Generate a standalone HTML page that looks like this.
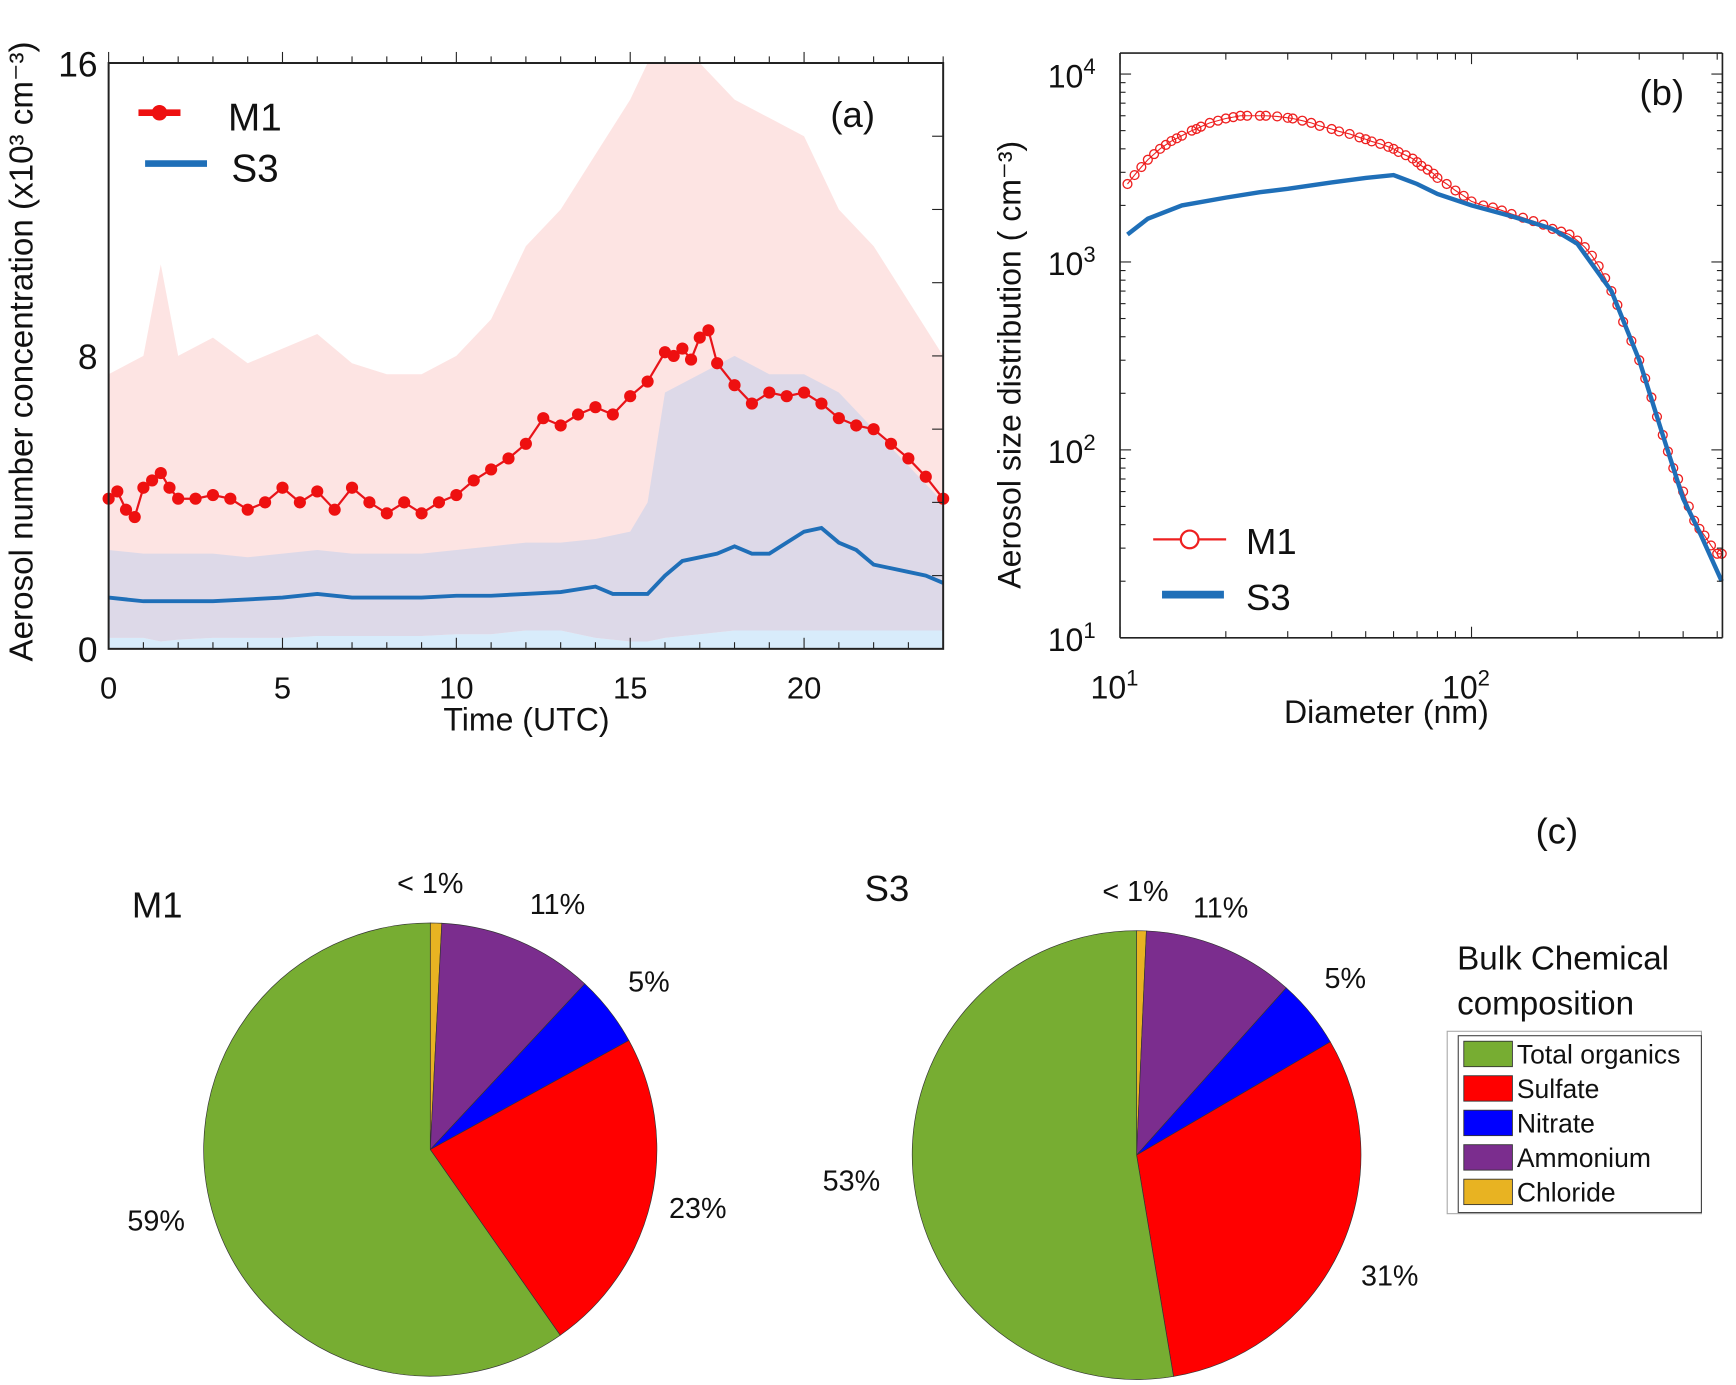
<!DOCTYPE html>
<html><head><meta charset="utf-8"><style>
html,body{margin:0;padding:0;background:#fff}
svg{display:block}
text{font-family:"Liberation Sans",sans-serif;fill:#111}
</style></head><body>
<svg id="fig" width="1736" height="1385" viewBox="0 0 1568 1253" xmlns="http://www.w3.org/2000/svg">
<g id="pa"></g>
<g id="pb"></g>
<g id="pc"></g>
</svg>
<script>
// ---- Panel (a) data ----
const aM1Times=[0,0.25,0.5,0.75,1,1.25,1.5,1.75,2,2.5,3,3.5,4,4.5,5,5.5,6,6.5,7,7.5,8,8.5,9,9.5,10,10.5,11,11.5,12,12.5,13,13.5,14,14.5,15,15.5,16,16.25,16.5,16.75,17,17.25,17.5,18,18.5,19,19.5,20,20.5,21,21.5,22,22.5,23,23.5,24];
const aM1Values=[4.1,4.3,3.8,3.6,4.4,4.6,4.8,4.4,4.1,4.1,4.2,4.1,3.8,4.0,4.4,4.0,4.3,3.8,4.4,4.0,3.7,4.0,3.7,4.0,4.2,4.6,4.9,5.2,5.6,6.3,6.1,6.4,6.6,6.4,6.9,7.3,8.1,8.0,8.2,7.9,8.5,8.7,7.8,7.2,6.7,7.0,6.9,7.0,6.7,6.3,6.1,6.0,5.6,5.2,4.7,4.1];
const aS3Times=[0,1,2,3,4,5,6,7,8,9,10,11,12,13,14,14.5,15,15.5,16,16.5,17,17.5,18,18.5,19,19.5,20,20.5,21,21.5,22,22.5,23,23.5,24];
const aS3Values=[1.4,1.3,1.3,1.3,1.35,1.4,1.5,1.4,1.4,1.4,1.45,1.45,1.5,1.55,1.7,1.5,1.5,1.5,2.0,2.4,2.5,2.6,2.8,2.6,2.6,2.9,3.2,3.3,2.9,2.7,2.3,2.2,2.1,2.0,1.8];
const aBandTimes=[0,1,1.5,2,3,4,5,6,7,8,9,10,11,12,13,14,15,15.5,16,17,18,19,20,21,22,23,24];
const aM1Upper=[7.5,8,10.5,8,8.5,7.8,8.2,8.6,7.8,7.5,7.5,8,9,11,12,13.5,15,16,16,16,15,14.5,14,12,11,9.5,8];
const aS3Upper=[2.7,2.6,2.6,2.6,2.6,2.5,2.6,2.7,2.6,2.6,2.6,2.7,2.8,2.9,2.9,3.0,3.2,4,7,7.5,8,7.5,7.5,7,6,5,4];
const aS3Lower=[0.3,0.3,0.2,0.25,0.3,0.3,0.3,0.35,0.35,0.35,0.35,0.4,0.4,0.5,0.5,0.3,0.2,0.2,0.3,0.4,0.5,0.5,0.5,0.5,0.5,0.5,0.5];
const aXTicks=[0,5,10,15,20];
const aYTicks=[0,8,16];
// ---- Panel (b) data ----
const bM1D=[10.5,11,11.5,12,12.5,13,13.5,14,14.5,15,16,16.5,17,18,19,20,21,22,23,25,26,28,30,31,33,35,37,40,42,45,48,50,52,55,58,60,62,65,68,70,72,75,78,80,85,90,95,100,108,115,122,130,140,150,160,170,180,190,200,210,220,230,240,250,260,270,285,300,312,325,337,350,362,375,387,400,415,430,445,460,480,500,515];
const bM1V=[2600,2900,3200,3500,3750,4000,4200,4400,4550,4700,5000,5100,5250,5500,5650,5800,5900,6000,6000,6000,6000,5950,5850,5800,5650,5500,5300,5100,4950,4800,4600,4500,4380,4250,4100,4000,3850,3700,3550,3400,3250,3100,2950,2800,2600,2400,2250,2100,2000,1950,1880,1800,1720,1650,1580,1500,1450,1400,1300,1200,1080,950,820,700,590,480,380,300,240,190,150,120,98,80,70,60,50,42,38,35,31,28,28];
const bS3D=[10.5,12,15,20,25,30,40,50,60,70,80,100,130,170,200,250,300,350,400,450,515];
const bS3V=[1400,1700,2000,2200,2350,2450,2650,2800,2900,2600,2300,2000,1750,1500,1250,700,300,120,55,35,20];
// ---- Panel (c) data ----
const cCategories=["Chloride","Ammonium","Nitrate","Sulfate","Total organics"];
const cColors=["#e8b322","#7b2d8e","#0000ff","#ff0000","#77ad32"];
const cM1Values=[0.8,11,5,23,59];
const cS3Values=[0.7,11,5,31,53];
const cM1Labels=["< 1%","11%","5%","23%","59%"];
const cS3Labels=["< 1%","11%","5%","31%","53%"];

const NS="http://www.w3.org/2000/svg";
function mk(parent,tag,attrs,txt){const e=document.createElementNS(NS,tag);for(const k in attrs)e.setAttribute(k,attrs[k]);if(txt!==undefined)e.textContent=txt;parent.appendChild(e);return e;}

// ===== Panel A =====
const pa=document.getElementById('pa');
const ax=t=>97+t*(755/24), ay=v=>587-v*(530/16);
function band(up,lo,fill,name){let d='';aBandTimes.forEach((t,i)=>{d+=(i?'L':'M')+ax(t)+','+ay(Math.min(up[i],16));});for(let i=aBandTimes.length-1;i>=0;i--)d+='L'+ax(aBandTimes[i])+','+ay(lo?lo[i]:0);d+='Z';
const p=mk(pa,'path',{d:d,fill:fill});

}
band(aM1Upper,null,'#fde4e3','m1-range-band');
band(aS3Upper,aS3Lower,'#ddd9e8','s3-range-band');
band(aS3Lower,null,'#d8ecfb','s3-lower-band');
let dm='';aM1Times.forEach((t,i)=>dm+=(i?'L':'M')+ax(t)+','+ay(aM1Values[i]));
const lm=mk(pa,'path',{d:dm,fill:'none',stroke:'#e8141a','stroke-width':2});


aM1Times.forEach((t,i)=>{const c=mk(pa,'circle',{cx:ax(t),cy:ay(aM1Values[i]),r:5.5,fill:'#ee1010'});

});
let ds='';aS3Times.forEach((t,i)=>ds+=(i?'L':'M')+ax(t)+','+ay(aS3Values[i]));
const ls=mk(pa,'path',{d:ds,fill:'none',stroke:'#1f6fb8','stroke-width':3.5});


mk(pa,'rect',{x:97,y:57,width:755,height:530,fill:'none',stroke:'#222','stroke-width':1.8});
for(let t=0;t<=24;t++){const big=t%5==0;mk(pa,'line',{x1:ax(t),x2:ax(t),y1:587,y2:587-(big?10:6),stroke:'#222'});mk(pa,'line',{x1:ax(t),x2:ax(t),y1:57,y2:57-(big?10:6),stroke:'#222'});}
for(let v=0;v<=16;v+=2){mk(pa,'line',{x1:852,x2:842,y1:ay(v),y2:ay(v),stroke:'#222'});}
aXTicks.forEach(t=>{const e=mk(pa,'text',{x:ax(t),y:632,'font-size':28,'text-anchor':'middle'},t);

});
aYTicks.forEach(v=>{const e=mk(pa,'text',{x:87,y:ay(v)+12,'font-size':32,'text-anchor':'end'},v);

});
mk(pa,'text',{x:475,y:661,'font-size':29,'text-anchor':'middle',},'Time (UTC)');
mk(pa,'text',{transform:'translate(28,318) rotate(-90)','font-size':30,'text-anchor':'middle',},'Aerosol number concentration (x10³  cm⁻³)');
mk(pa,'text',{x:750,y:115,'font-size':33,},'(a)');
mk(pa,'line',{x1:124,x2:162,y1:102,y2:102,stroke:'#ee1010','stroke-width':6});
mk(pa,'circle',{cx:143,cy:102,r:7,fill:'#ee1010'});
mk(pa,'text',{x:205,y:118,'font-size':35,},'M1');
mk(pa,'line',{x1:130,x2:186,y1:148,y2:148,stroke:'#1f6fb8','stroke-width':6});
mk(pa,'text',{x:208,y:164,'font-size':35,},'S3');

// ===== Panel B =====
const pb=document.getElementById('pb');
const bx=d=>1012+(Math.log10(d)-1)*318, by=v=>577-(Math.log10(v)-1)*170;
let dbm='';bM1D.forEach((d,i)=>dbm+=(i?'L':'M')+bx(d)+','+by(bM1V[i]));
mk(pb,'path',{d:dbm,fill:'none',stroke:'#ee2020','stroke-width':1,});
bM1D.forEach((d,i)=>{const c=mk(pb,'circle',{cx:bx(d),cy:by(bM1V[i]),r:4,fill:'none',stroke:'#ee2020','stroke-width':1.2});

});
let db='';bS3D.forEach((d,i)=>db+=(i?'L':'M')+bx(d)+','+by(bS3V[i]));
const sl=mk(pb,'path',{d:db,fill:'none',stroke:'#1f6fb8','stroke-width':4});


mk(pb,'line',{x1:1012,x2:1557,y1:577,y2:577,stroke:'#222','stroke-width':1.5});
mk(pb,'line',{x1:1012,x2:1557,y1:48,y2:48,stroke:'#222','stroke-width':1.5});
mk(pb,'line',{x1:1012,x2:1012,y1:48,y2:577,stroke:'#222','stroke-width':1.5});
mk(pb,'line',{x1:1557,x2:1557,y1:48,y2:577,stroke:'#222','stroke-width':1.5});
for(let dec=1;dec<=2;dec++)for(let m=1;m<=9;m++){const d=m*Math.pow(10,dec);if(d>515)break;const x=bx(d);const L=m==1?10:6;mk(pb,'line',{x1:x,x2:x,y1:577,y2:577-L,stroke:'#222'});mk(pb,'line',{x1:x,x2:x,y1:48,y2:48+L,stroke:'#222'});}
for(let dec=1;dec<=4;dec++)for(let m=1;m<=9;m++){const v=m*Math.pow(10,dec);if(v>13000)break;const y=by(v);const L=m==1?10:5;mk(pb,'line',{x1:1012,x2:1012+L,y1:y,y2:y,stroke:'#222'});mk(pb,'line',{x1:1557,x2:1557-L,y1:y,y2:y,stroke:'#222'});}
[1,2,3,4].forEach(p=>{const t=mk(pb,'text',{x:990,y:by(Math.pow(10,p))+12,'font-size':29,'text-anchor':'end'});t.innerHTML='10<tspan dy="-12" font-size="20">'+p+'</tspan>';

});
[1,2].forEach(p=>{const t=mk(pb,'text',{x:bx(Math.pow(10,p))-5,y:632,'font-size':29,'text-anchor':'middle'});t.innerHTML='10<tspan dy="-12" font-size="20">'+p+'</tspan>';

});
mk(pb,'text',{x:1253,y:654,'font-size':29,'text-anchor':'middle',},'Diameter (nm)');
mk(pb,'text',{transform:'translate(922,330) rotate(-90)','font-size':29,'text-anchor':'middle',},'Aerosol size distribution ( cm⁻³)');
mk(pb,'text',{x:1482,y:95,'font-size':33,},'(b)');
mk(pb,'line',{x1:1042,x2:1108,y1:488,y2:488,stroke:'#ee2020','stroke-width':2});
mk(pb,'circle',{cx:1075,cy:488,r:8,fill:'#fff',stroke:'#ee2020','stroke-width':2});
mk(pb,'text',{x:1126,y:501,'font-size':33,},'M1');
mk(pb,'line',{x1:1050,x2:1106,y1:538,y2:538,stroke:'#1f6fb8','stroke-width':7});
mk(pb,'text',{x:1126,y:552,'font-size':33,},'S3');

// ===== Panel C =====
const pc=document.getElementById('pc');
mk(pc,'text',{x:1388,y:763,'font-size':33,},'(c)');
function pie(cx,cy,r,vals,labels,labelPos,name){const tot=vals.reduce((a,b)=>a+b,0);let a=0;
vals.forEach((v,i)=>{const a0=a,a1=a+v/tot*2*Math.PI;a=a1;
const x0=cx+r*Math.sin(a0),y0=cy-r*Math.cos(a0),x1=cx+r*Math.sin(a1),y1=cy-r*Math.cos(a1);
const p=mk(pc,'path',{d:`M${cx},${cy}L${x0},${y0}A${r},${r} 0 ${a1-a0>Math.PI?1:0} 1 ${x1},${y1}Z`,fill:cColors[i],stroke:'#333','stroke-width':0.6});


const t=mk(pc,'text',{x:labelPos[i][0],y:labelPos[i][1],'font-size':26},labels[i]);

});}
pie(388,1040,205,cM1Values,cM1Labels,[[358,808],[478,827],[567,897],[604,1102],[114,1113]],'m1-pie');
pie(1027,1045,203,cS3Values,cS3Labels,[[996,815],[1078,830],[1197,894],[1230,1163],[743,1077]],'s3-pie');
mk(pc,'text',{x:118,y:830,'font-size':33,},'M1');
mk(pc,'text',{x:781,y:815,'font-size':33,},'S3');
mk(pc,'text',{x:1317,y:877,'font-size':30,},'Bulk Chemical');
mk(pc,'text',{x:1317,y:918,'font-size':30,},'composition');
mk(pc,'rect',{x:1308,y:933,width:230,height:165,fill:'#fff',stroke:'#aaa',});
mk(pc,'rect',{x:1318,y:937,width:220,height:160,fill:'none',stroke:'#444'});
const order=[4,3,2,1,0];
order.forEach((ci,k)=>{const y=942+k*31.2;mk(pc,'rect',{x:1323,y:y,width:44,height:23,fill:cColors[ci],stroke:'#333','stroke-width':0.8});
const t=mk(pc,'text',{x:1371,y:y+20,'font-size':24},cCategories[ci]);

});
</script>
</body></html>
